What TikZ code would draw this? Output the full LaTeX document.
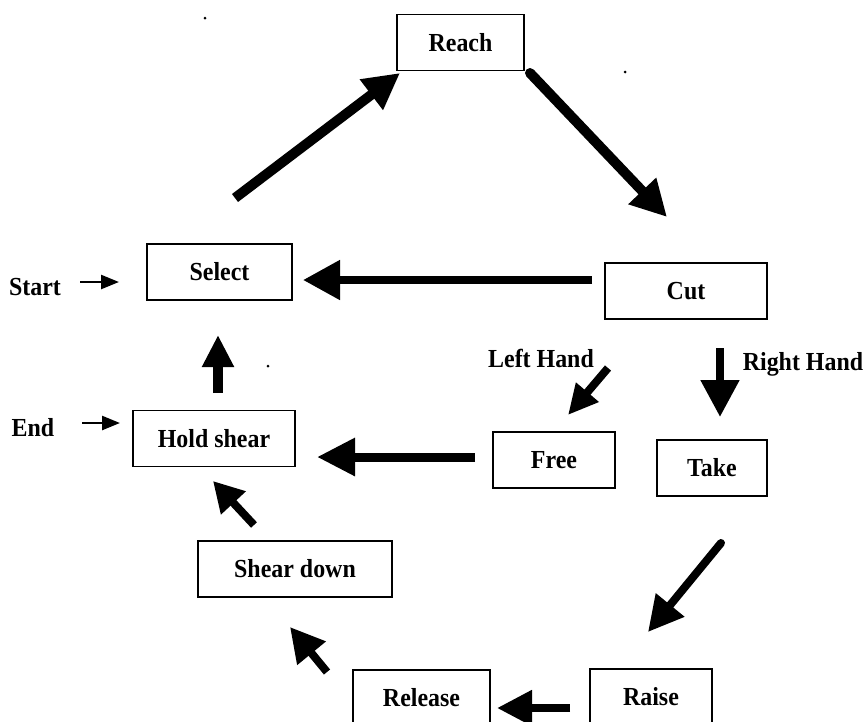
\documentclass[tikz,border=0pt]{standalone}
\usepackage{fontspec}
\setmainfont{Liberation Serif}[FakeStretch=0.92]
\usetikzlibrary{arrows.meta}
\begin{document}
\begin{tikzpicture}[x=1pt,y=-1pt,
  lbl/.style={font=\fontsize{26}{30}\selectfont\bfseries, inner sep=0pt},
  box/.style={draw, line width=1.8pt, minimum width=#1, minimum height=56pt, inner sep=0pt,
              font=\fontsize{26}{30}\selectfont\bfseries},
  bigarrow/.style={line width=10pt, -{Triangle[length=36pt,width=36pt]}},
  midarrow/.style={line width=8pt, -{Triangle[length=35pt,width=35pt]}},
  smallarrow/.style={line width=2.5pt, -{Triangle[length=18pt,width=14pt]}},
  speck/.style={fill=black, draw=none, circle, inner sep=0pt, minimum size=3pt}]
\useasboundingbox (0,0) rectangle (867,721);
\clip (0,0) rectangle (867,721);

% boxes
\node[box=127pt] (reach)   at (460.5,42.5) {Reach};
\node[box=145pt] (select)  at (219.5,272)  {Select};
\node[box=162pt] (cut)     at (686,291)    {Cut};
\node[box=162pt] (hold)    at (214,438.5)  {Hold shear};
\node[box=122pt] (free)    at (554,460)    {Free};
\node[box=110pt] (take)    at (712,468)    {Take};
\node[box=194pt] (shear)   at (295,569)    {Shear down};
\node[box=137pt] (release) at (421.5,698)  {Release};
\node[box=122pt] (raise)   at (651,697)    {Raise};

% free labels
\node[lbl] (start) at (35,287)  {Start};
\node[lbl] (end)   at (33,428)  {End};
\node[lbl] (left)  at (541,358) {Left Hand};
\node[lbl] (right) at (803,364) {Right Hand};

% arrow end points
\coordinate (a1s) at (235,198);  \coordinate (a1e) at (400,73);
\coordinate (a2s) at (530,73);   \coordinate (a2e) at (667,217);
\coordinate (a3s) at (592,280);  \coordinate (a3e) at (303,280);
\coordinate (a4s) at (80,282);   \coordinate (a4e) at (119,282);
\coordinate (a5s) at (82,423);   \coordinate (a5e) at (120,423);
\coordinate (a6s) at (218,393);  \coordinate (a6e) at (218,335);
\coordinate (a7s) at (608,368);  \coordinate (a7e) at (568,415);
\coordinate (a8s) at (720,348);  \coordinate (a8e) at (720,417);
\coordinate (a9s) at (475,457);  \coordinate (a9e) at (317,457);
\coordinate (a10s) at (721,543); \coordinate (a10e) at (648,632);
\coordinate (a11s) at (570,708); \coordinate (a11e) at (497,708);
\coordinate (a12s) at (327,672); \coordinate (a12e) at (290,627);
\coordinate (a13s) at (254,525); \coordinate (a13e) at (213,481);

\draw[bigarrow] (a1s) -- (a1e);
\draw[bigarrow, line cap=round] (a2s) -- (a2e);
\draw[midarrow, -{Triangle[length=37pt,width=38pt]}] (a3s) -- (a3e);
\draw[smallarrow] (a4s) -- (a4e);
\draw[smallarrow] (a5s) -- (a5e);
\draw[bigarrow, -{Triangle[length=32pt,width=30pt]}] (a6s) -- (a6e);
\draw[midarrow, -{Triangle[length=30pt,width=28pt]}] (a7s) -- (a7e);
\draw[midarrow, -{Triangle[length=37pt,width=37pt]}] (a8s) -- (a8e);
\draw[line width=9pt, -{Triangle[length=38pt,width=36pt]}] (a9s) -- (a9e);
\draw[midarrow, line cap=round] (a10s) -- (a10e);
\draw[midarrow, -{Triangle[length=35pt,width=34pt]}] (a11s) -- (a11e);
\draw[midarrow, -{Triangle[length=34pt,width=35pt]}] (a12s) -- (a12e);
\draw[midarrow, -{Triangle[length=30pt,width=32pt]}] (a13s) -- (a13e);

% scan specks
\node[speck] (d1) at (205,18) {};
\node[speck] (d2) at (625,72) {};
\node[speck] (d3) at (268,366) {};
\end{tikzpicture}
\end{document}
